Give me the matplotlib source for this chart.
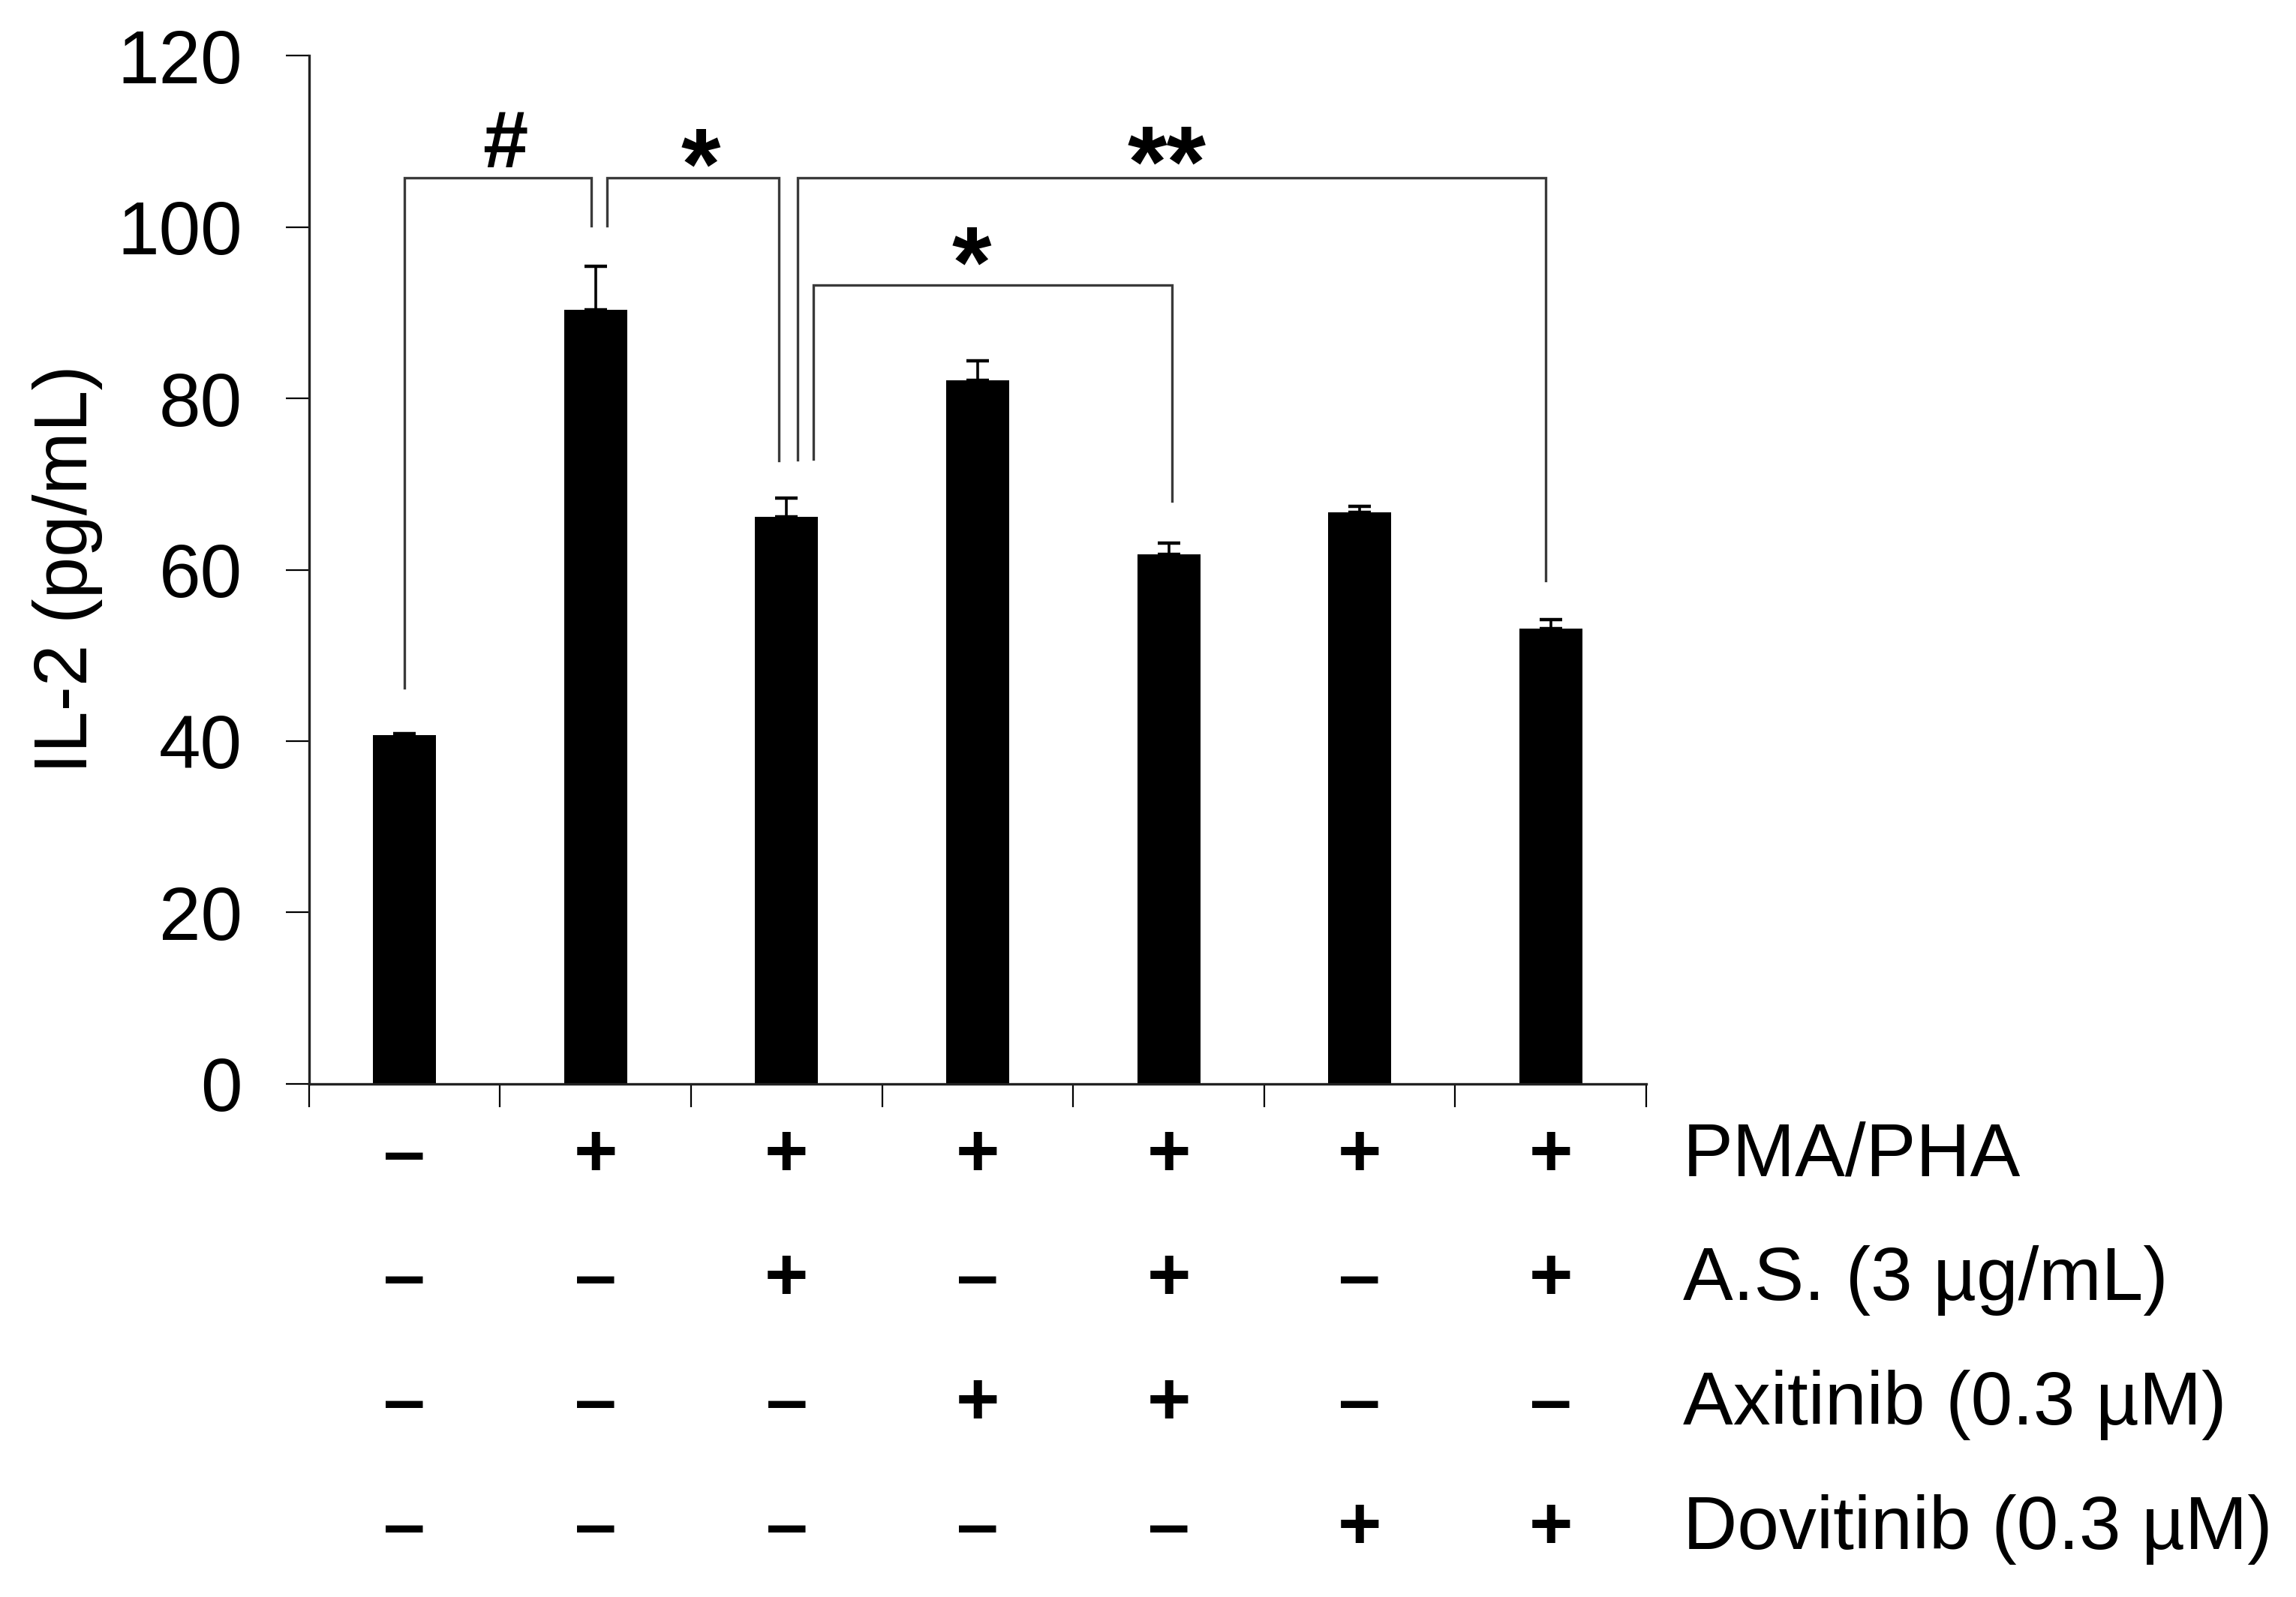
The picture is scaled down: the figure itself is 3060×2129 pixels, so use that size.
import matplotlib
matplotlib.use("Agg")
import matplotlib.pyplot as plt
import numpy as np

plt.rcParams['font.family'] = ['Liberation Sans', 'DejaVu Sans']

# ---- data ----
values = [40.7, 90.3, 66.2, 82.1, 61.8, 66.7, 53.1]
errors = [0.2, 5.1, 2.2, 2.3, 1.3, 0.7, 1.1]
yticks = [0, 20, 40, 60, 80, 100, 120]
ylabel = "IL-2 (pg/mL)"

row_labels = ["PMA/PHA", "A.S. (3 µg/mL)", "Axitinib (0.3 µM)", "Dovitinib (0.3 µM)"]
row_signs = [
    ["–", "+", "+", "+", "+", "+", "+"],
    ["–", "–", "+", "–", "+", "–", "+"],
    ["–", "–", "–", "+", "+", "–", "–"],
    ["–", "–", "–", "–", "–", "+", "+"],
]

# significance brackets: left x, right x, top y, left bottom, right bottom
br_x1 = [0.0, 1.06, 2.057, 2.139]
br_x2 = [0.978, 1.961, 5.975, 4.018]
br_top = [105.7, 105.7, 105.7, 93.2]
br_b1 = [46.2, 100.1, 72.8, 72.9]
br_b2 = [100.1, 72.7, 58.7, 68.0]
br_text = ["#", "*", "**", "*"]
br_tx = [0.527, 1.55, 3.99, 2.967]
br_ty = [107.0, 103.3, 103.6, 91.9]

# ---- figure ----
fig = plt.figure(figsize=(30.6, 21.29), dpi=100)
ax = fig.add_axes([0.1346, 0.3213, 0.717 - 0.1346, 0.9652 - 0.3213])

x = np.arange(len(values))
ax.bar(x, values, width=0.33, color='black', zorder=2)
ax.errorbar(x, values, yerr=[np.zeros(len(errors)), errors], fmt='none',
            ecolor='black', elinewidth=2.6, capsize=10.7, capthick=3.2, zorder=3)

ax.set_xlim(-0.5, 6.5)
ax.set_ylim(0, 120)
ax.set_yticks(yticks)
ax.set_yticklabels([str(t) for t in yticks], fontsize=72)
ax.set_xticks(np.arange(-0.5, 7.0, 1.0))
ax.set_xticklabels([])
ax.tick_params(axis='y', direction='out', length=22, width=1.6, pad=42, colors='black')
ax.tick_params(axis='x', direction='out', length=22, width=1.6)
for s in ['top', 'right']:
    ax.spines[s].set_visible(False)
for s in ['left', 'bottom']:
    ax.spines[s].set_linewidth(2.4)
    ax.spines[s].set_color('#222222')

fig.text(0.0294, (1 - 759 / 2129), ylabel, rotation=90, ha='center', va='center', fontsize=72)

# brackets
bc = '#3a3a3a'
for i in range(len(br_x1)):
    ax.plot([br_x1[i], br_x1[i], br_x2[i], br_x2[i]],
            [br_b1[i], br_top[i], br_top[i], br_b2[i]],
            color=bc, lw=2.4, solid_joinstyle='miter', clip_on=False, zorder=4)
    if br_text[i] == "#":
        ax.text(br_tx[i], br_ty[i], br_text[i], ha='center', va='baseline',
                fontsize=78, fontweight='bold')
    else:
        ax.text(br_tx[i], br_ty[i], br_text[i], ha='center', va='baseline',
                fontsize=97, fontweight='bold')

# treatment table under the axis
trans = ax.get_xaxis_transform()
row_y = [-0.0897, -0.210, -0.331, -0.452]
for r in range(len(row_labels)):
    for c in range(len(values)):
        ax.text(x[c], row_y[r], row_signs[r][c], transform=trans, ha='center',
                va='baseline', fontsize=72, fontweight='bold', clip_on=False)
    ax.text(6.692, row_y[r], row_labels[r], transform=trans, ha='left',
            va='baseline', fontsize=72, clip_on=False)

fig.savefig("out.png", dpi=100, facecolor='white')
